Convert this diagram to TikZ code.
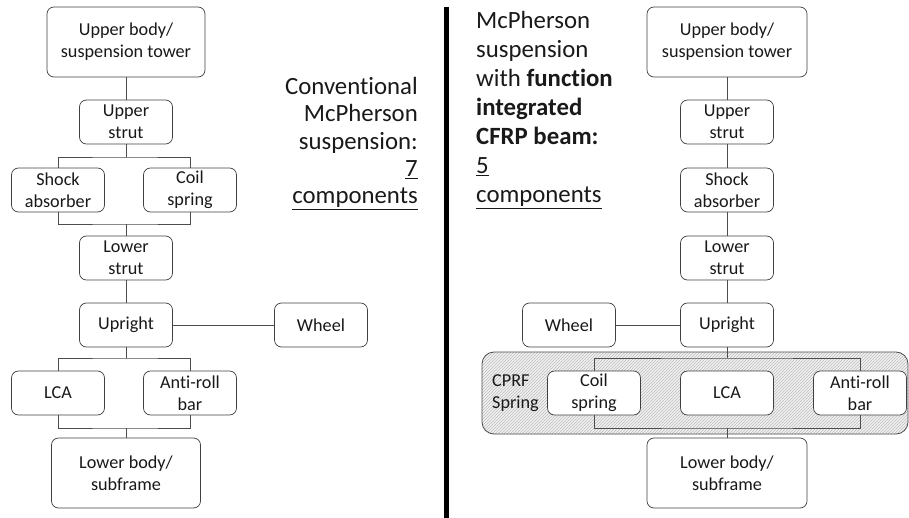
\documentclass[tikz,border=0pt]{standalone}
\usepackage{fontspec}
\setmainfont{Carlito}[Ligatures=CommonOff]
\usetikzlibrary{patterns}

\tikzset{
  part/.style={draw=black!75, fill=white, rounded corners=7pt, align=center,
    inner sep=0pt, minimum width=93pt, minimum height=44pt, line width=0.7pt,
    font=\fontsize{18.2}{21.7}\selectfont, text=black!90},
  bigpart/.style={part, minimum width=158pt, minimum height=70pt},
  link/.style={draw=black!70, line width=0.8pt},
  caption/.style={font=\fontsize{24.8}{27.3}\selectfont, text=black!90, inner sep=0pt}
}

\begin{document}
\begin{tikzpicture}[x=1pt, y=-1pt]

      \useasboundingbox (0,0) rectangle (909,518);

      % function integrated beam
      \begin{scope}
        \clip (0,0) rectangle (909,518);
        \path[fill=black!5, rounded corners=12pt] (482,352) rectangle (908,434);
        \path[pattern=north east lines, pattern color=black!26, rounded corners=12pt] (482,352) rectangle (908,434);
        \draw[black!70, line width=0.8pt, rounded corners=12pt] (482,352) rectangle (908,434);
      \end{scope}

      % divider
      \draw[line width=5pt] (446.5,7) -- (446.5,518);

      \begin{scope}[every node/.style={part}]
        % conventional
        \node[bigpart] (ub1) at (126,42)  {Upper body/\\suspension tower};
        \node (us1)  at (126,122) {Upper\\strut};
        \node (sa1)  at (58,190)  {Shock\\absorber};
        \node (cs1)  at (190,190) {Coil\\spring};
        \node (ls1)  at (126,258) {Lower\\strut};
        \node (up1)  at (126,325) {Upright};
        \node (wh1)  at (321,325) {Wheel};
        \node (lca1) at (58,393)  {LCA};
        \node (arb1) at (190,393) {Anti-roll\\bar};
        \node[bigpart, minimum width=149pt] (lb1) at (126,473) {Lower body/\\subframe};

        % integrated
        \node[bigpart, minimum width=160pt] (ub2) at (727,42) {Upper body/\\suspension tower};
        \node (us2)  at (727,122) {Upper\\strut};
        \node (sa2)  at (727,190) {Shock\\absorber};
        \node (ls2)  at (727,258) {Lower\\strut};
        \node (up2)  at (727,325) {Upright};
        \node (wh2)  at (569,325) {Wheel};
        \node (cs2)  at (594,393) {Coil\\spring};
        \node (lca2) at (727,393) {LCA};
        \node (arb2) at (860,393) {Anti-roll\\bar};
        \node[bigpart, minimum width=160pt] (lb2) at (727,473) {Lower body/\\subframe};
      \end{scope}

      \coordinate (t1) at (126,157);
      \coordinate (b1) at (126,224);
      \coordinate (t3) at (126,358);
      \coordinate (b3) at (126,428);
      \coordinate (t2) at (727,358);
      \coordinate (b2) at (727,428);

      \begin{scope}[every path/.style={link}]
        \path (ub1) edge (us1);
        \path (us1.south) edge (t1);
        \draw (sa1) |- (t1) -| (cs1);
        \draw (sa1) |- (b1) -| (cs1);
        \path (b1) edge (ls1.north);
        \path (ls1) edge (up1);
        \path (up1) edge (wh1);
        \path (up1.south) edge (t3);
        \draw (lca1) |- (t3) -| (arb1);
        \draw (lca1) |- (b3) -| (arb1);
        \path (b3) edge (lb1.north);

        \path (ub2) edge (us2);
        \path (us2) edge (sa2);
        \path (sa2) edge (ls2);
        \path (ls2) edge (up2);
        \path (wh2) edge (up2);
        \path (up2.south) edge (t2);
        \draw (cs2) |- (t2) -| (arb2);
        \draw (cs2) |- (b2) -| (arb2);
        \path (b2) edge (lb2.north);
      \end{scope}

      % captions
      \node[caption, align=right, anchor=east] (cap1) at (418,143.5)
        {Conventional\\McPherson\\suspension:\\\underline{7}\\\underline{components}};
      \node[caption, align=left, anchor=west, font=\fontsize{24.8}{29}\selectfont] (cap2) at (476,110)
        {McPherson\\suspension\\with \textbf{function}\\\textbf{integrated}\\\textbf{CFRP beam:}\\\underline{5}\\\underline{components}};
      \node[caption, align=left, anchor=west, font=\fontsize{18.2}{21.7}\selectfont] (cprf) at (492,393)
        {CPRF\\Spring};

    \end{tikzpicture}
\end{document}
